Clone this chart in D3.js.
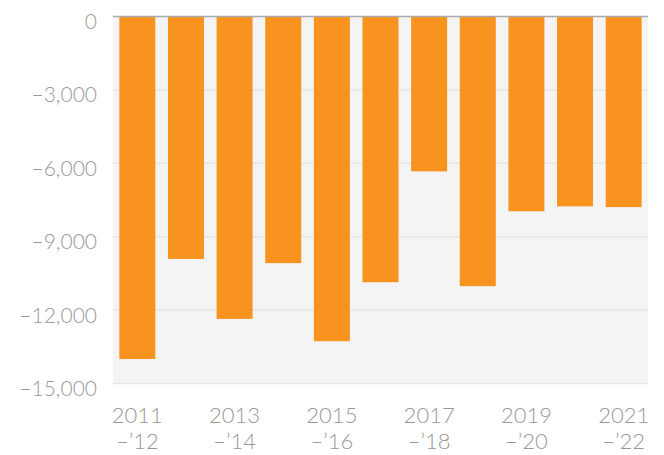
<!DOCTYPE html>
<html>
<head>
<meta charset="utf-8">
<script src="https://cdn.jsdelivr.net/npm/d3@7"></script>
<style>
  body { margin: 0; background: #fff; }
  text { font-family: Lato, sans-serif; font-weight: 300; }
</style>
</head>
<body>
<div id="chart"></div>
<script>
// data
var seasons = ["2011", "2012", "2013", "2014", "2015", "2016", "2017", "2018", "2019", "2020", "2021"];
var values = [-14000, -9910, -12360, -10080, -13270, -10860, -6330, -11020, -7960, -7760, -7790];
var yTicks = [0, -3000, -6000, -9000, -12000, -15000];
var labelTop = ["2011", "2013", "2015", "2017", "2019", "2021"];
var labelBottom = ["\u2013\u201912", "\u2013\u201914", "\u2013\u201916", "\u2013\u201918", "\u2013\u201920", "\u2013\u201922"];

var margin = {top: 16.5, right: 16, bottom: 71.5, left: 113},
    width = 664 - margin.left - margin.right,
    height = 455 - margin.top - margin.bottom;

var svg = d3.select("#chart").append("svg")
    .attr("width", 664)
    .attr("height", 455);

var g = svg.append("g")
    .attr("transform", "translate(" + margin.left + "," + margin.top + ")");

var x = d3.scaleBand()
    .domain(seasons)
    .range([0, width])
    .paddingInner(0.26)
    .paddingOuter(0.13);

var y = d3.scaleLinear()
    .domain([0, -15000])
    .range([0, height]);

// plot background
g.append("rect")
    .attr("width", width)
    .attr("height", height)
    .attr("fill", "#f4f4f4");

// gridlines
g.selectAll(".grid")
    .data(yTicks.slice(1))
  .enter().append("line")
    .attr("x1", 0)
    .attr("x2", width)
    .attr("y1", function(d) { return y(d); })
    .attr("y2", function(d) { return y(d); })
    .attr("stroke", "#e6e6e6")
    .attr("stroke-width", 1.5);

// bars
g.selectAll(".bar")
    .data(values)
  .enter().append("rect")
    .attr("x", function(d, i) { return x(seasons[i]); })
    .attr("y", y(0))
    .attr("width", x.bandwidth())
    .attr("height", function(d) { return y(d) - y(0); })
    .attr("fill", "#f7931e");

// zero line
g.append("line")
    .attr("x1", 0)
    .attr("x2", width)
    .attr("y1", y(0))
    .attr("y2", y(0))
    .attr("stroke", "#aaaaaa")
    .attr("stroke-width", 1.5);

// y axis labels (sit a little below their gridline, like the original)
var fmt = d3.format(",");
g.selectAll(".ylab")
    .data(yTicks)
  .enter().append("text")
    .attr("x", -16)
    .attr("y", function(d) { return y(d) + 5; })
    .attr("dy", "0.36em")
    .attr("text-anchor", "end")
    .attr("fill", "#999")
    .style("font-size", "21px")
    .text(function(d) { return d < 0 ? "\u2013" + fmt(-d) : fmt(d); });

// x axis labels, every other season
var xl = g.selectAll(".xlab")
    .data(labelTop)
  .enter().append("text")
    .attr("text-anchor", "middle")
    .attr("fill", "#999")
    .style("font-size", "22px")
    .attr("transform", function(d) {
      return "translate(" + (x(d) + x.bandwidth() / 2) + "," + (height + 39) + ")";
    });

xl.append("tspan")
    .attr("x", 0)
    .text(function(d) { return d; });

xl.append("tspan")
    .attr("x", 0)
    .attr("dy", 26)
    .text(function(d, i) { return labelBottom[i]; });
</script>
</body>
</html>
